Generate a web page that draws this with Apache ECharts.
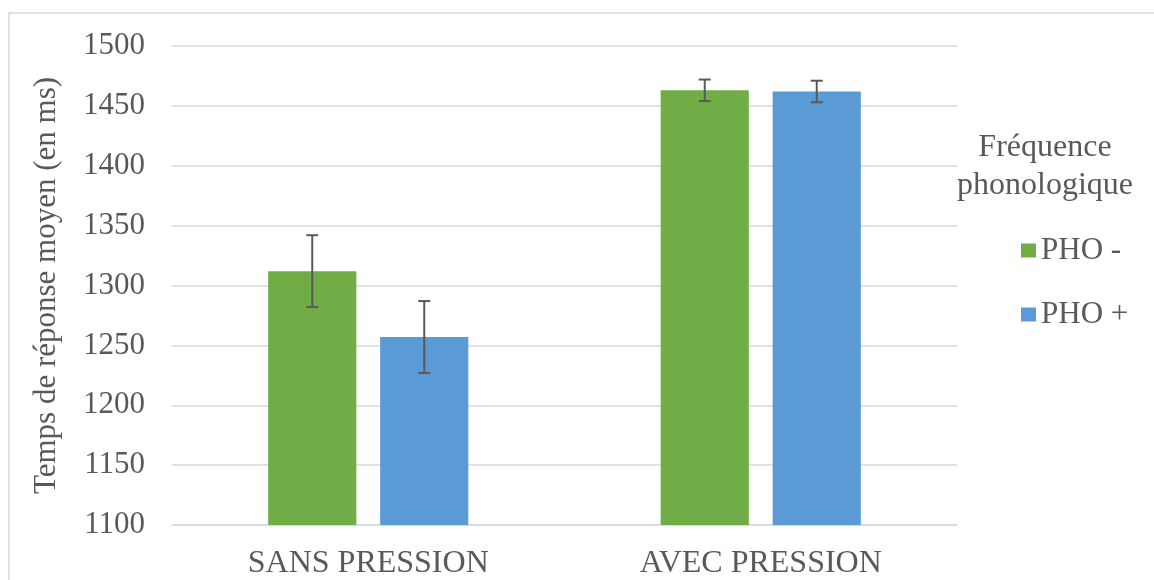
<!DOCTYPE html>
<html>
<head>
<meta charset="utf-8">
<script src="https://cdn.jsdelivr.net/npm/echarts@6/dist/echarts.min.js"></script>
<style>
html,body{margin:0;padding:0;background:#fff;}
#c{width:1154px;height:580px;}
</style>
</head>
<body>
<div id="c"></div>
<script>
const categories = ['SANS PRESSION', 'AVEC PRESSION'];
const seriesNames = ['PHO -', 'PHO +'];
const phoMoins = [1312, 1463];
const phoPlus = [1257, 1462];
const errMoins = [30, 9];
const errPlus = [30, 9];
const yTicks = { min: 1100, max: 1500, interval: 50 };
const legendTitle = 'Fréquence\nphonologique';
const yTitle = 'Temps de réponse moyen (en ms)';

const FONT = '"Liberation Serif", "Times New Roman", serif';
const TXT = '#595959';
const barGap = 0.27, catGap = 0.49;

const errData = [];
[phoMoins, phoPlus].forEach((vals, s) => {
  const errs = s === 0 ? errMoins : errPlus;
  vals.forEach((v, i) => errData.push([i, s, v - errs[i], v + errs[i]]));
});

function renderErr(params, api) {
  const ci = api.value(0), si = api.value(1);
  const lo = api.coord([ci, api.value(2)]);
  const hi = api.coord([ci, api.value(3)]);
  const band = api.size([1, 0])[0];
  const bw = band * (1 - catGap) / (2 + barGap);
  const off = (bw / 2 + bw * barGap / 2) * (si === 0 ? -1 : 1);
  const x = lo[0] + off;
  const cap = 6;
  const st = { stroke: '#595959', lineWidth: 2 };
  return {
    type: 'group',
    children: [
      { type: 'line', shape: { x1: x, y1: lo[1], x2: x, y2: hi[1] }, style: st },
      { type: 'line', shape: { x1: x - cap, y1: lo[1], x2: x + cap, y2: lo[1] }, style: st },
      { type: 'line', shape: { x1: x - cap, y1: hi[1], x2: x + cap, y2: hi[1] }, style: st }
    ]
  };
}

const chart = echarts.init(document.getElementById('c'), null, { renderer: 'canvas' });
chart.setOption({
  animation: false,
  backgroundColor: '#fff',
  graphic: [{
    type: 'rect', shape: { x: 9, y: 13, width: 1300, height: 800 },
    style: { fill: 'none', stroke: '#D9D9D9', lineWidth: 1.5 }, silent: true, z: -1
  }],
  title: {
    text: legendTitle, left: 1040, top: 124, textAlign: 'center',
    textStyle: { fontFamily: FONT, fontSize: 32, fontWeight: 'normal', color: TXT, lineHeight: 38 }
  },
  legend: {
    orient: 'vertical', left: 1016, top: 230, itemGap: 33,
    itemWidth: 15, itemHeight: 14, icon: 'rect',
    data: seriesNames,
    textStyle: { fontFamily: FONT, fontSize: 31, color: TXT, lineHeight: 31, padding: [0, 0, 0, 0] }
  },
  grid: { left: 172, right: 197, top: 46, bottom: 53, containLabel: false },
  xAxis: {
    type: 'category', data: categories,
    axisLine: { show: true, lineStyle: { color: '#D9D9D9', width: 1.5 } },
    axisTick: { show: false },
    axisLabel: { fontFamily: FONT, fontSize: 32, color: TXT, margin: 23 }
  },
  yAxis: {
    type: 'value', min: yTicks.min, max: yTicks.max, interval: yTicks.interval,
    name: yTitle, nameLocation: 'middle', nameGap: 110,
    nameTextStyle: { fontFamily: FONT, fontSize: 31, color: TXT },
    axisLine: { show: false }, axisTick: { show: false },
    axisLabel: { fontFamily: FONT, fontSize: 31, color: TXT, margin: 27, formatter: v => String(v) },
    splitLine: { lineStyle: { color: '#D9D9D9', width: 1.5 } }
  },
  series: [
    { name: seriesNames[0], type: 'bar', data: phoMoins, barGap: (barGap * 100) + '%', barCategoryGap: (catGap * 100) + '%',
      itemStyle: { color: '#70AD47' } },
    { name: seriesNames[1], type: 'bar', data: phoPlus, barGap: (barGap * 100) + '%', barCategoryGap: (catGap * 100) + '%',
      itemStyle: { color: '#5B9BD5' } },
    { type: 'custom', renderItem: renderErr, data: errData, z: 10, silent: true,
      encode: { x: 0, y: [2, 3] } }
  ]
});
</script>
</body>
</html>
